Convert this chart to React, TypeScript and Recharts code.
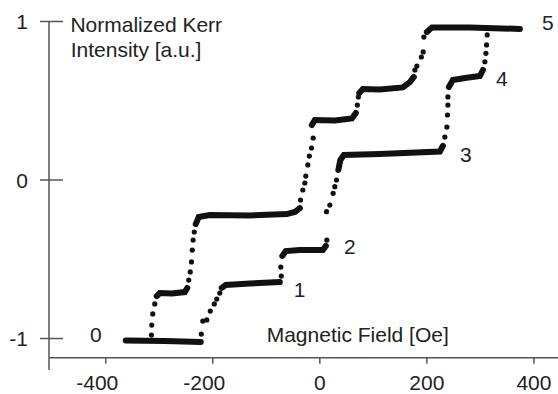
import React from "react";
import { ComposedChart, Line, Scatter, XAxis, YAxis, ReferenceLine, ReferenceDot } from "recharts";

// axes
const xDomain = [-506, 445];
const yDomain = [-1.121, 1];
const xTicks = [-400, -200, 0, 200, 400];
const yTicks = [-1, 0, 1];

// left branch: flat parts (dense points) and the sparse points of each jump
const leftPlateaus = [
    [[-304.7, -0.732], [-299.1, -0.713], [-276.6, -0.716], [-252.3, -0.707], [-247.7, -0.681]],
    [[-231.8, -0.278], [-226.2, -0.233], [-205.6, -0.221], [-130.8, -0.224], [-61.7, -0.215], [-46.7, -0.202], [-37.4, -0.177]],
    [[-15, 0.347], [-9.3, 0.379], [28, 0.375], [59.8, 0.388], [67.3, 0.423]],
    [[73.8, 0.549], [80.4, 0.574], [112.1, 0.571], [155.1, 0.584], [168.2, 0.618], [175.7, 0.65]],
    [[200, 0.934], [209.3, 0.962], [280.4, 0.962], [373.8, 0.953]],
];
const leftJumps = [
    [-314.6, -0.978], [-314, -0.915], [-312.1, -0.845], [-308.4, -0.782],
    [-244.9, -0.631], [-242.1, -0.58], [-239.8, -0.517], [-238.3, -0.442], [-236.8, -0.379], [-234.6, -0.328],
    [-36.1, -0.126], [-31.8, -0.063], [-28, -0.019], [-26.2, 0.025], [-22.4, 0.095], [-19.6, 0.151], [-15.5, 0.202], [-12.5, 0.265],
    [70.1, 0.473], [72, 0.524],
    [177.6, 0.694], [181.3, 0.719], [189.7, 0.776], [193.1, 0.808], [194.4, 0.902],
];

// right branch
const rightPlateaus = [
    [[-362.6, -1.013], [-289.7, -1.016], [-222.4, -1.022]],
    [[-183.2, -0.681], [-175.7, -0.662], [-130.8, -0.653], [-74.8, -0.644]],
    [[-70.1, -0.479], [-63.6, -0.448], [-37.4, -0.442], [5.6, -0.442], [11.2, -0.416]],
    [[34.6, 0.063], [38.3, 0.126], [44.9, 0.158], [112.1, 0.164], [224.3, 0.18], [229.9, 0.215]],
    [[241.1, 0.587], [248.6, 0.631], [271, 0.644], [299, 0.656], [304.7, 0.694]],
];
const rightJumps = [
    [-221.5, -0.972], [-218.7, -0.89], [-211.2, -0.883], [-204.7, -0.827], [-197.2, -0.782], [-192.5, -0.751], [-186.9, -0.713],
    [-72, -0.606], [-72.9, -0.549],
    [13.1, -0.379],
    [12.5, -0.2], [18.7, -0.158], [24.9, -0.084], [28, -0.042], [31.2, 0],
    [233.6, 0.271], [237.4, 0.334], [238.5, 0.41], [239.3, 0.473], [239.3, 0.524],
    [308.4, 0.746], [310.3, 0.799], [311.5, 0.852], [312.7, 0.915],
];

// step numbers and where they sit (data coords)
const stepNames = ["0", "1", "2", "3", "4", "5"];
const stepAt = [[-418.7, -0.978], [-37.8, -0.69], [56.1, -0.421], [272.9, 0.163], [340.2, 0.641], [426.2, 0.996]];

const FONT = "'Liberation Sans', Arial, Helvetica, sans-serif";
const AXIS = "#555";
const INK = "#111";

const toPts = (arr: number[][]) => arr.map(([x, y]) => ({ x, y }));

const XTick = (props: any) => {
    const { x, y, payload } = props;
    const shift = payload.value < 0 ? -8.5 : 0;
    return (
        <text x={x + shift} y={y} dy="0.71em" textAnchor="middle" fontSize={21} fill="#222" fontFamily={FONT}>
            {payload.value}
        </text>
    );
};

const YTick = (props: any) => {
    const { x, y, payload } = props;
    return (
        <g>
            <line x1={x - 9} x2={x + 14} y1={y} y2={y} stroke={AXIS} strokeWidth={1.5} />
            <text x={x - 21} y={y} dy="0.36em" textAnchor="end" fontSize={21} fill="#222" fontFamily={FONT}>
                {payload.value}
            </text>
        </g>
    );
};

const Dot = (p: any) => <circle cx={p.cx} cy={p.cy} r={2.6} fill={INK} />;

const App = () => {
    return (
        <div style={{ position: "absolute", left: 0, top: 0, width: 558, height: 394, background: "#fff" }}>
            <ComposedChart width={558} height={394} margin={{ top: 21.5, right: 0, bottom: 0, left: 0 }}>
                <XAxis
                    type="number"
                    dataKey="x"
                    domain={xDomain}
                    ticks={xTicks}
                    allowDataOverflow
                    height={36.3}
                    tickSize={6}
                    tickMargin={11}
                    axisLine={{ stroke: AXIS, strokeWidth: 1.5 }}
                    tickLine={{ stroke: AXIS, strokeWidth: 1.5 }}
                    tick={<XTick />}
                />
                <YAxis
                    type="number"
                    dataKey="y"
                    domain={yDomain}
                    ticks={yTicks}
                    allowDataOverflow
                    width={49}
                    tickSize={0}
                    tickMargin={0}
                    axisLine={false}
                    tickLine={false}
                    tick={<YTick />}
                />
                <ReferenceLine
                    segment={[{ x: xDomain[0], y: 1 }, { x: xDomain[0], y: -1.199 }]}
                    stroke={AXIS}
                    strokeWidth={1.5}
                    ifOverflow="visible"
                />

                {leftPlateaus.map((seg, i) => (
                    <Line key={"l" + i} data={toPts(seg)} dataKey="y" type="linear" stroke={INK}
                        strokeWidth={6} strokeLinecap="round" dot={false} isAnimationActive={false} />
                ))}
                {rightPlateaus.map((seg, i) => (
                    <Line key={"r" + i} data={toPts(seg)} dataKey="y" type="linear" stroke={INK}
                        strokeWidth={6} strokeLinecap="round" dot={false} isAnimationActive={false} />
                ))}
                <Scatter data={toPts(leftJumps)} shape={<Dot />} isAnimationActive={false} />
                <Scatter data={toPts(rightJumps)} shape={<Dot />} isAnimationActive={false} />

                {stepNames.map((name, i) => (
                    <ReferenceDot key={name} x={stepAt[i][0]} y={stepAt[i][1]} r={0} fill="none" stroke="none"
                        ifOverflow="visible"
                        label={{ value: name, position: "center", fontSize: 21, fill: "#222", fontFamily: FONT }} />
                ))}
            </ComposedChart>

            <svg width={558} height={394} style={{ position: "absolute", left: 0, top: 0, pointerEvents: "none" }}>
                <g fontFamily={FONT} fontSize={21} fill="#222">
                    <text x={70.4} y={32}>Normalized Kerr</text>
                    <text x={70.7} y={57}>Intensity [a.u.]</text>
                    <text x={266.7} y={341.7}>Magnetic Field [Oe]</text>
                </g>
            </svg>
        </div>
    );
};

export default App;
